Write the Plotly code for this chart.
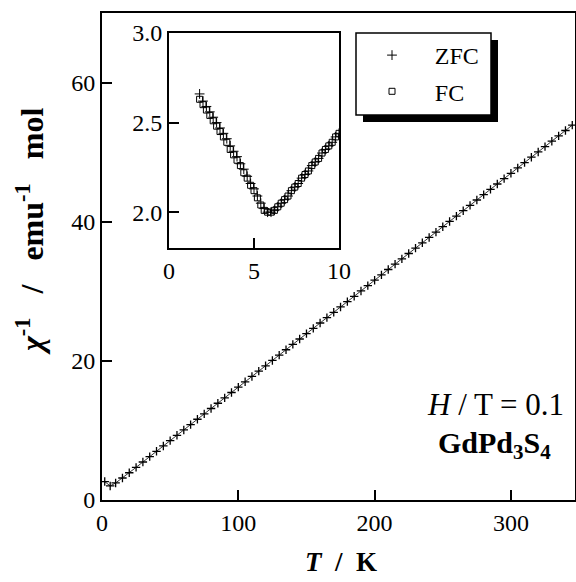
import plotly.graph_objects as go

# ---------------- data ----------------
T_main = [2, 6, 10, 15, 20, 25, 30, 35, 40, 45, 50, 55, 60, 65, 70, 75, 80, 85, 90, 95,
          100, 105, 110, 115, 120, 125, 130, 135, 140, 145, 150, 155, 160, 165, 170, 175,
          180, 185, 190, 195, 200, 205, 210, 215, 220, 225, 230, 235, 240, 245, 250, 255,
          260, 265, 270, 275, 280, 285, 290, 295, 300, 305, 310, 315, 320, 325, 330, 335,
          340, 345]
chi_inv_main = [2.65, 2.02, 2.45, 3.16, 3.92, 4.69, 5.46, 6.23, 7.00, 7.77, 8.54, 9.30,
                10.07, 10.84, 11.61, 12.38, 13.15, 13.91, 14.68, 15.45, 16.22, 16.99,
                17.76, 18.53, 19.29, 20.06, 20.83, 21.60, 22.37, 23.14, 23.91, 24.67,
                25.44, 26.21, 26.98, 27.75, 28.52, 29.28, 30.05, 30.82, 31.59, 32.36,
                33.13, 33.90, 34.66, 35.43, 36.20, 36.97, 37.74, 38.51, 39.28, 40.04,
                40.81, 41.58, 42.35, 43.12, 43.89, 44.65, 45.42, 46.19, 46.96, 47.73,
                48.50, 49.27, 50.03, 50.80, 51.57, 52.34, 53.11, 53.88]

T_inset = [1.8, 2.0, 2.2, 2.4, 2.6, 2.8, 3.0, 3.2, 3.4, 3.6, 3.8, 4.0, 4.2, 4.4, 4.6,
           4.8, 5.0, 5.2, 5.4, 5.6, 5.8, 6.0, 6.2, 6.4, 6.6, 6.8, 7.0, 7.2, 7.4, 7.6,
           7.8, 8.0, 8.2, 8.4, 8.6, 8.8, 9.0, 9.2, 9.4, 9.6, 9.8, 10.0]
chi_inv_zfc = [2.66, 2.62, 2.59, 2.56, 2.53, 2.50, 2.47, 2.44, 2.41, 2.37, 2.34, 2.31,
               2.27, 2.24, 2.20, 2.16, 2.13, 2.09, 2.05, 2.02, 2.00, 2.00, 2.01, 2.03,
               2.05, 2.07, 2.09, 2.12, 2.14, 2.16, 2.19, 2.21, 2.23, 2.26, 2.28, 2.30,
               2.33, 2.35, 2.37, 2.39, 2.42, 2.44]
chi_inv_fc = [2.63, 2.60, 2.57, 2.54, 2.51, 2.48, 2.45, 2.42, 2.39, 2.35, 2.32, 2.29,
              2.26, 2.22, 2.19, 2.15, 2.12, 2.08, 2.04, 2.01, 2.00, 2.00, 2.01, 2.03,
              2.05, 2.07, 2.09, 2.12, 2.14, 2.16, 2.19, 2.21, 2.23, 2.26, 2.28, 2.30,
              2.33, 2.35, 2.37, 2.39, 2.42, 2.44]

main_xticks = [0, 100, 200, 300]
main_yticks = [0, 20, 40, 60]
inset_xticks = [0, 5, 10]
inset_yticks = [2.0, 2.5, 3.0]

FONT = "Liberation Serif"
NB = "&nbsp;"
THIN = "&#8201;"

# ---------------- figure ----------------
fig = go.Figure()

fig.add_trace(go.Scatter(
    x=T_main, y=chi_inv_main, mode="lines+markers", showlegend=False,
    line=dict(color="black", width=0.8),
    marker=dict(symbol="cross-thin", size=6, line=dict(color="black", width=1.3)),
    xaxis="x", yaxis="y"))

fig.add_trace(go.Scatter(
    x=T_inset, y=chi_inv_zfc, mode="markers", name=NB * 3 + THIN + "ZFC",
    legendgroup="a",
    marker=dict(symbol="cross-thin", size=7, line=dict(color="black", width=1)),
    xaxis="x2", yaxis="y2"))

fig.add_trace(go.Scatter(
    x=T_inset, y=chi_inv_fc, mode="markers", name=NB * 3 + THIN + "FC",
    legendgroup="b",
    marker=dict(symbol="square-open", size=6, color="black", line=dict(width=1)),
    xaxis="x2", yaxis="y2"))

W, H = 576, 582
L, T = 102, 13
R = W - 575
B = H - 500
pw, ph = W - L - R, H - T - B


def px(p):
    return (p - L) / pw


def py(p):
    return (H - B - p) / ph


axis_common = dict(showline=True, linecolor="black", mirror=True, ticks="inside",
                   tickcolor="black", showgrid=False, zeroline=False, automargin=False,
                   tickfont=dict(family=FONT, size=24, color="black"))

fig.update_layout(
    template="none",
    width=W, height=H, autosize=False,
    margin=dict(l=L, r=R, t=T, b=B, pad=0, autoexpand=False),
    paper_bgcolor="white", plot_bgcolor="white",
    font=dict(family=FONT, color="black"),
    xaxis=dict(range=[0, 347], tickvals=main_xticks, ticklen=10, tickwidth=2,
               linewidth=2, domain=[0, 1], anchor="y", **axis_common),
    yaxis=dict(range=[0, 70], tickvals=main_yticks, ticklen=10, tickwidth=2,
               linewidth=2, domain=[0, 1], anchor="x", **axis_common),
    xaxis2=dict(range=[0, 10], tickvals=inset_xticks, ticklen=10, tickwidth=2,
                linewidth=2, domain=[px(169), px(339)], anchor="y2", **axis_common),
    yaxis2=dict(range=[1.8, 3.0], tickvals=inset_yticks, tickformat=".1f", ticklen=10,
                tickwidth=2, linewidth=2, domain=[py(248), py(33)], anchor="x2",
                **axis_common),
    legend=dict(x=px(372), y=py(33), xanchor="left", yanchor="top",
                bgcolor="rgba(0,0,0,0)", borderwidth=0,
                font=dict(family=FONT, size=24, color="black"),
                tracegroupgap=2),
    shapes=[
        dict(type="rect", xref="paper", yref="paper", x0=px(363), x1=px(498),
             y0=py(122), y1=py(40), fillcolor="black", line=dict(width=0), layer="above"),
        dict(type="rect", xref="paper", yref="paper", x0=px(356), x1=px(491),
             y0=py(115), y1=py(33), fillcolor="white",
             line=dict(color="black", width=1.5), layer="above"),
    ],
    annotations=[
        dict(text="<i>H</i> / T = 0.1", xref="paper", yref="paper",
             x=px(566), y=py(405), xanchor="right", yanchor="middle", showarrow=False,
             font=dict(family=FONT, size=31, color="black")),
        dict(text="<b>GdPd<sub>3</sub>S<sub>4</sub></b>", xref="paper", yref="paper",
             x=px(494), y=py(445), xanchor="center", yanchor="middle", showarrow=False,
             font=dict(family=FONT, size=30, color="black")),
        dict(text="<b><i>T</i>" + NB * 2 + "/" + NB * 2 + "K</b>", xref="paper",
             yref="paper", x=px(341), y=py(562), xanchor="center", yanchor="middle",
             showarrow=False, font=dict(family=FONT, size=27, color="black")),
        dict(text="<b><i>χ</i><sup>-1</sup>" + NB * 3 + "/" + NB * 3 + "emu<sup>-1</sup>"
                  + NB * 3 + "mol</b>", xref="paper",
             yref="paper", x=px(30), y=py(232), xanchor="center", yanchor="middle",
             textangle=-90, showarrow=False,
             font=dict(family=FONT, size=32, color="black")),
    ],
)

fig.write_html(
    "out.html",
    config={"displayModeBar": False},
    post_script="document.body.style.margin='0';"
                "document.documentElement.style.overflow='hidden';"
                "document.body.style.overflow='hidden';")
